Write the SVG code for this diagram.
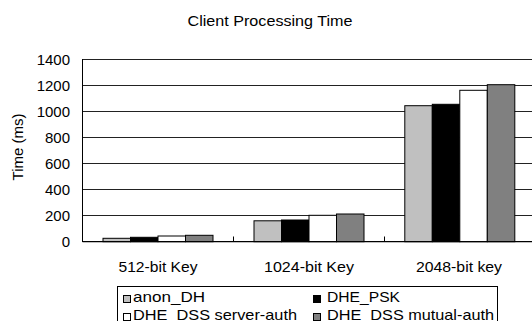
<svg xmlns="http://www.w3.org/2000/svg" width="532" height="324" viewBox="0 0 532 324">
<style>
  text { font-family: "Liberation Sans", Arial, sans-serif; fill: #000; }
  .t { font-size: 15px; }
  .tick { font-size: 15px; text-anchor: end; }
  .cat { font-size: 15px; text-anchor: middle; }
  .leg { font-size: 15px; }
  .grid { stroke: #222; stroke-width: 1; }
  .bar { stroke: #000; stroke-width: 1; }
  .s1 { fill: #c0c0c0; }
  .s2 { fill: #000000; }
  .s3 { fill: #ffffff; }
  .s4 { fill: #808080; }
</style>
<defs>
  <clipPath id="legclip"><rect x="0" y="0" width="532" height="321"/></clipPath>
</defs>
<rect x="0" y="0" width="532" height="324" fill="#fff"/>

<g id="title"><text class="t" x="270" y="26" text-anchor="middle" textLength="165" lengthAdjust="spacingAndGlyphs">Client Processing Time</text></g>

<g id="y-axis-label"><text class="t" transform="translate(23,147) rotate(-90)" text-anchor="middle">Time (ms)</text></g>

<g id="gridlines">
  <line class="grid" x1="82.5" y1="59.5" x2="532" y2="59.5" stroke="#888"/>
  <line class="grid" x1="82.5" y1="85.5" x2="532" y2="85.5"/>
  <line class="grid" x1="82.5" y1="111.5" x2="532" y2="111.5"/>
  <line class="grid" x1="82.5" y1="137.5" x2="532" y2="137.5"/>
  <line class="grid" x1="82.5" y1="163.5" x2="532" y2="163.5"/>
  <line class="grid" x1="82.5" y1="189.5" x2="532" y2="189.5"/>
  <line class="grid" x1="82.5" y1="215.5" x2="532" y2="215.5"/>
</g>

<g id="y-ticks">
  <text class="tick" x="70" y="65">1400</text>
  <text class="tick" x="70" y="91">1200</text>
  <text class="tick" x="70" y="117">1000</text>
  <text class="tick" x="70" y="143">800</text>
  <text class="tick" x="70" y="169">600</text>
  <text class="tick" x="70" y="195">400</text>
  <text class="tick" x="70" y="221">200</text>
  <text class="tick" x="70" y="247">0</text>
</g>

<g id="bars-512">
  <rect class="bar s1" x="103" y="238.3" width="27.5" height="3.4"/>
  <rect class="bar s2" x="130.5" y="237.3" width="27.5" height="4.4"/>
  <rect class="bar s3" x="158" y="236" width="27.5" height="5.7"/>
  <rect class="bar s4" x="185.5" y="235.3" width="27.5" height="6.4"/>
</g>
<g id="bars-1024">
  <rect class="bar s1" x="254" y="220.8" width="27.5" height="20.9"/>
  <rect class="bar s2" x="281.5" y="220" width="27.5" height="21.7"/>
  <rect class="bar s3" x="309" y="215.3" width="27.5" height="26.4"/>
  <rect class="bar s4" x="336.5" y="214" width="27.5" height="27.7"/>
</g>
<g id="bars-2048">
  <rect class="bar s1" x="404.8" y="105.7" width="27.5" height="136"/>
  <rect class="bar s2" x="432.3" y="104.3" width="27.5" height="137.4"/>
  <rect class="bar s3" x="459.8" y="90.3" width="27.5" height="151.4"/>
  <rect class="bar s4" x="487.3" y="84.7" width="27.5" height="157"/>
</g>

<g id="axes">
  <line x1="82.5" y1="59" x2="82.5" y2="242" stroke="#000" stroke-width="1"/>
  <line x1="82.5" y1="241.7" x2="532" y2="241.7" stroke="#000" stroke-width="1.2"/>
  <line x1="233.5" y1="236.5" x2="233.5" y2="241.7" stroke="#000" stroke-width="1"/>
  <line x1="384.5" y1="236.5" x2="384.5" y2="241.7" stroke="#000" stroke-width="1"/>
</g>

<g id="x-labels">
  <text class="cat" x="158" y="272" textLength="79" lengthAdjust="spacingAndGlyphs">512-bit Key</text>
  <text class="cat" x="309" y="272" textLength="90" lengthAdjust="spacingAndGlyphs">1024-bit Key</text>
  <text class="cat" x="459" y="272" textLength="86" lengthAdjust="spacingAndGlyphs">2048-bit key</text>
</g>

<g id="legend" clip-path="url(#legclip)">
  <rect x="117.5" y="286.5" width="380" height="50" fill="#fff" stroke="#000" stroke-width="1"/>
  <rect class="s1" x="123.5" y="295.5" width="7" height="7" stroke="#000" stroke-width="1"/>
  <text class="leg" x="133" y="302" textLength="72" lengthAdjust="spacingAndGlyphs">anon_DH</text>
  <rect class="s2" x="313.5" y="295.5" width="7" height="7" stroke="#000" stroke-width="1"/>
  <text class="leg" x="327" y="302" textLength="73" lengthAdjust="spacingAndGlyphs">DHE_PSK</text>
  <rect class="s3" x="123.5" y="313.5" width="7" height="7" stroke="#000" stroke-width="1"/>
  <text class="leg" x="133" y="320" textLength="164" lengthAdjust="spacingAndGlyphs">DHE_DSS server-auth</text>
  <rect class="s4" x="313.5" y="313.5" width="7" height="7" stroke="#000" stroke-width="1"/>
  <text class="leg" x="327" y="320" textLength="167" lengthAdjust="spacingAndGlyphs">DHE_DSS mutual-auth</text>
</g>
</svg>
